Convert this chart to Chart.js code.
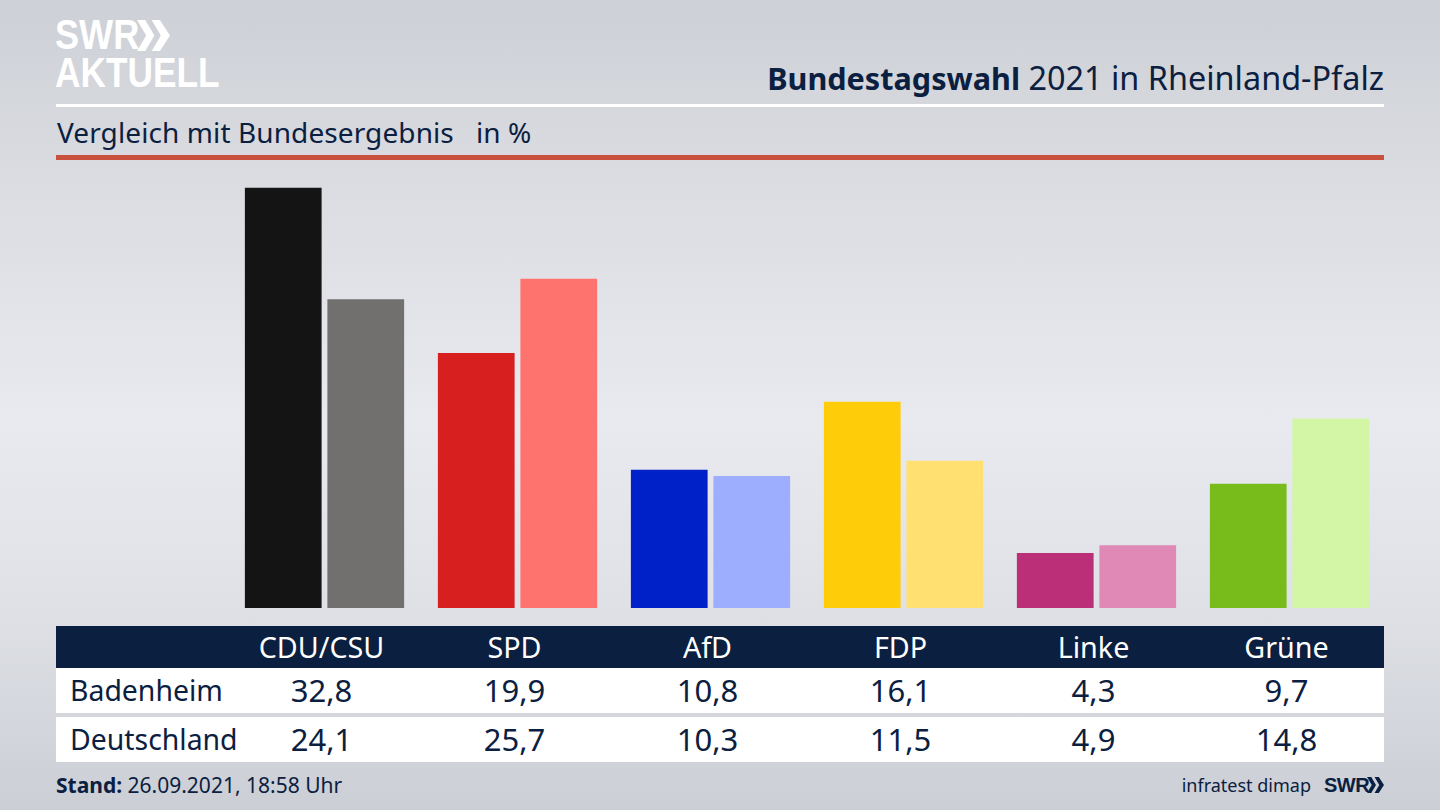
<!DOCTYPE html>
<html lang="de">
  <head>
    <meta charset="UTF-8" />
    <title>Bundestagswahl 2021 in Rheinland-Pfalz</title>
    <script src="https://cdn.jsdelivr.net/npm/chart.js"></script>
    <style>
      html, body { margin: 0; padding: 0; }
      body {
        position: relative; width: 1440px; height: 810px; overflow: hidden;
        font-family: "Noto Sans", sans-serif; color: #0b2040;
        background: linear-gradient(180deg, #cdd0d6 0%, #d9dbe0 20%, #e9eaef 52%, #dfe1e6 75%, #cbced5 100%);
      }
      .abs { position: absolute; white-space: nowrap; }
      #logo1, #logo2 { color: #fff; font-family: "Liberation Sans", sans-serif; font-weight: 700; transform-origin: left center; }
      #title { right: 56px; top: 56px; font-size: 32.4px; line-height: 42px; }
      #title b { font-size: 30.6px; }
      #subtitle { left: 57px; top: 113px; font-size: 28px; line-height: 38px; letter-spacing: 0.1px; }
      #whiteRule { left: 56px; top: 104px; width: 1328px; height: 3px; background: #fff; }
      #redRule { left: 56px; top: 155px; width: 1328px; height: 5px; background: #c8503c; }
      #chartBox { left: 228px; top: 159px; width: 1158px; height: 449px; }
      .row { left: 56px; width: 1328px; }
      .cell { position: absolute; top: 0; width: 193px; text-align: center; }
      .rowName { position: absolute; left: 14px; top: 0; font-size: 28.4px; }
      #stand { left: 56px; top: 770px; font-size: 21px; line-height: 30px; }
      #source { right: 129px; top: 771px; font-size: 18px; line-height: 28px; }
    </style>
  </head>
  <body>
    <div class="abs" id="logo1" style="left:55px;top:12px;font-size:42px;line-height:46px;transform:scaleX(0.86)">SWR</div>
    <svg class="abs" style="left:137px;top:19px" width="33" height="33" viewBox="0 0 36 34">
      <path fill="#fff" d="M0 0h9l10 17-10 17H0l10-17zM16 0h9l11 17-11 17h-9l10-17z" />
    </svg>
    <div class="abs" id="logo2" style="left:55px;top:50px;font-size:42px;line-height:46px;transform:scaleX(0.84)">AKTUELL</div>

    <div class="abs" id="title"><b>Bundestagswahl</b> 2021 in Rheinland-Pfalz</div>
    <div class="abs" id="whiteRule"></div>
    <div class="abs" id="subtitle">Vergleich mit Bundesergebnis&nbsp;&nbsp; in %</div>
    <div class="abs" id="redRule"></div>

    <div class="abs" id="chartBox"><canvas id="resultChart" width="1158" height="449"></canvas></div>
    <div id="table"></div>

    <div class="abs" id="stand"><b>Stand:</b> 26.09.2021, 18:58 Uhr</div>
    <div class="abs" id="source">infratest dimap</div>
    <div class="abs" style="left:1324px;top:771px;font:700 20px/28px 'Liberation Sans',sans-serif;letter-spacing:-0.5px">SWR</div>
    <svg class="abs" style="left:1367px;top:777px" width="17" height="16" viewBox="0 0 36 34">
      <path fill="#0b2040" d="M0 0h9l10 17-10 17H0l10-17zM16 0h9l11 17-11 17h-9l10-17z" />
    </svg>

    <script>
      const parties = ["CDU/CSU", "SPD", "AfD", "FDP", "Linke", "Grüne"];
      const badenheim = [32.8, 19.9, 10.8, 16.1, 4.3, 9.7];
      const deutschland = [24.1, 25.7, 10.3, 11.5, 4.9, 14.8];
      const localColors = ["#141414", "#d71f1f", "#0020c8", "#ffcc0a", "#bb2e78", "#78bc1c"];
      const federalColors = ["#72706e", "#ff736e", "#9eaeff", "#ffe070", "#e088b6", "#d2f5a6"];

      const fmt = (v) => v.toFixed(1).replace(".", ",");

      new Chart(document.getElementById("resultChart"), {
        type: "bar",
        data: {
          labels: parties,
          datasets: [
            { label: "Badenheim", data: badenheim, backgroundColor: localColors },
            { label: "Deutschland", data: deutschland, backgroundColor: federalColors },
          ],
        },
        options: {
          responsive: false,
          animation: false,
          devicePixelRatio: 1,
          categoryPercentage: 0.855,
          barPercentage: 0.93,
          plugins: { legend: { display: false }, tooltip: { enabled: false } },
          scales: {
            x: { display: false },
            y: { display: false, min: 0, max: 35.05 },
          },
        },
      });

      // table below the bars, columns sit 193px apart
      function addRow(top, height, bg, name, values, color, fontSize) {
        const row = document.createElement("div");
        row.className = "abs row";
        row.style.cssText = `top:${top}px;height:${height}px;background:${bg};color:${color};line-height:${height}px`;
        if (name) {
          const n = document.createElement("div");
          n.className = "rowName";
          n.textContent = name;
          row.appendChild(n);
        }
        values.forEach((v, i) => {
          const c = document.createElement("div");
          c.className = "cell";
          c.style.left = 169 + i * 193 + "px";
          c.style.fontSize = fontSize + "px";
          c.textContent = v;
          row.appendChild(c);
        });
        document.getElementById("table").appendChild(row);
      }
      addRow(626, 42, "#0b2040", "", parties, "#fff", 28.7);
      addRow(668, 45, "#fff", "Badenheim", badenheim.map(fmt), "#0b2040", 31);
      addRow(717, 45, "#fff", "Deutschland", deutschland.map(fmt), "#0b2040", 31);
    </script>
  </body>
</html>
